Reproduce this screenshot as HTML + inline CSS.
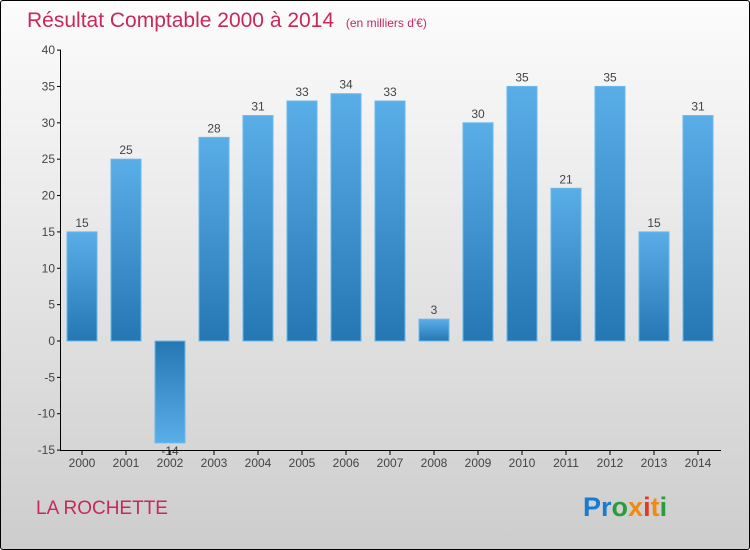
<!DOCTYPE html>
<html><head><meta charset="utf-8"><style>
body{margin:0;width:750px;height:550px;overflow:hidden}
#c{position:absolute;left:0;top:0;width:748px;height:548px;border:1px solid #000;border-radius:3px;background:linear-gradient(#fcfcfc,#cdcdcd);}
svg{position:absolute;left:0;top:0;font-family:"Liberation Sans",sans-serif}
</style></head><body>
<div id="c"></div>
<svg id="s" width="750" height="550">
<defs>
<linearGradient id="gp" x1="0" y1="0" x2="0" y2="1"><stop offset="0" stop-color="#5aaee8"/><stop offset="1" stop-color="#2577b3"/></linearGradient>
<linearGradient id="gn" x1="0" y1="0" x2="0" y2="1"><stop offset="0" stop-color="#2577b3"/><stop offset="1" stop-color="#5aaee8"/></linearGradient>
</defs>
<text x="27" y="27" font-size="21" fill="#c8285a">Résultat Comptable 2000 à 2014 <tspan font-size="12" dx="6">(en milliers d'€)</tspan></text>
<text x="36" y="514" font-size="19" fill="#c8285a">LA ROCHETTE</text>
<text x="583" y="516" font-size="27" font-weight="bold"><tspan fill="#1a7ad0">Pr</tspan><tspan fill="#2a9d3a">o</tspan><tspan fill="#f08a10">x</tspan><tspan fill="#e03a20">i</tspan><tspan fill="#f08a10">t</tspan><tspan fill="#2a9d3a">i</tspan></text>
<g id="g"></g>
</svg>
<script>
const categories=["2000","2001","2002","2003","2004","2005","2006","2007","2008","2009","2010","2011","2012","2013","2014"];
const values=[15,25,-14,28,31,33,34,33,3,30,35,21,35,15,31];
const yTicks=[40,35,30,25,20,15,10,5,0,-5,-10,-15];
const y=v=>341-v*(400/55);
const x=i=>82+i*44;
const g=document.getElementById('g');const NS='http://www.w3.org/2000/svg';
function mk(t,a,txt){const e=document.createElementNS(NS,t);for(const k in a)e.setAttribute(k,a[k]);if(txt!==undefined)e.textContent=txt;g.appendChild(e);return e;}
categories.forEach((c,i)=>{const v=values[i];const t=Math.min(y(v),y(0)),h=Math.abs(y(v)-y(0));
const r=mk('rect',{x:x(i)-15,y:t,width:30,height:h,fill:v>=0?'url(#gp)':'url(#gn)',stroke:'#6ab8ec','stroke-width':1});


const l=mk('text',{x:x(i),y:v>=0?y(v)-5:y(v)+12,'text-anchor':'middle','font-size':12,fill:'#444'},String(v));


mk('line',{x1:x(i),x2:x(i),y1:450,y2:455,stroke:'#000'});
const xl=mk('text',{x:x(i),y:467,'text-anchor':'middle','font-size':12,fill:'#444'},c);

});
yTicks.forEach(v=>{mk('line',{x1:57,x2:61,y1:y(v),y2:y(v),stroke:'#000'});
const t=mk('text',{x:55,y:y(v)+4,'text-anchor':'end','font-size':12,fill:'#444'},String(v));

});
const ya=mk('line',{x1:60.5,x2:60.5,y1:50,y2:450,stroke:'#000'});


const xa=mk('line',{x1:60,x2:721,y1:450.5,y2:450.5,stroke:'#000'});


</script>
</body></html>
